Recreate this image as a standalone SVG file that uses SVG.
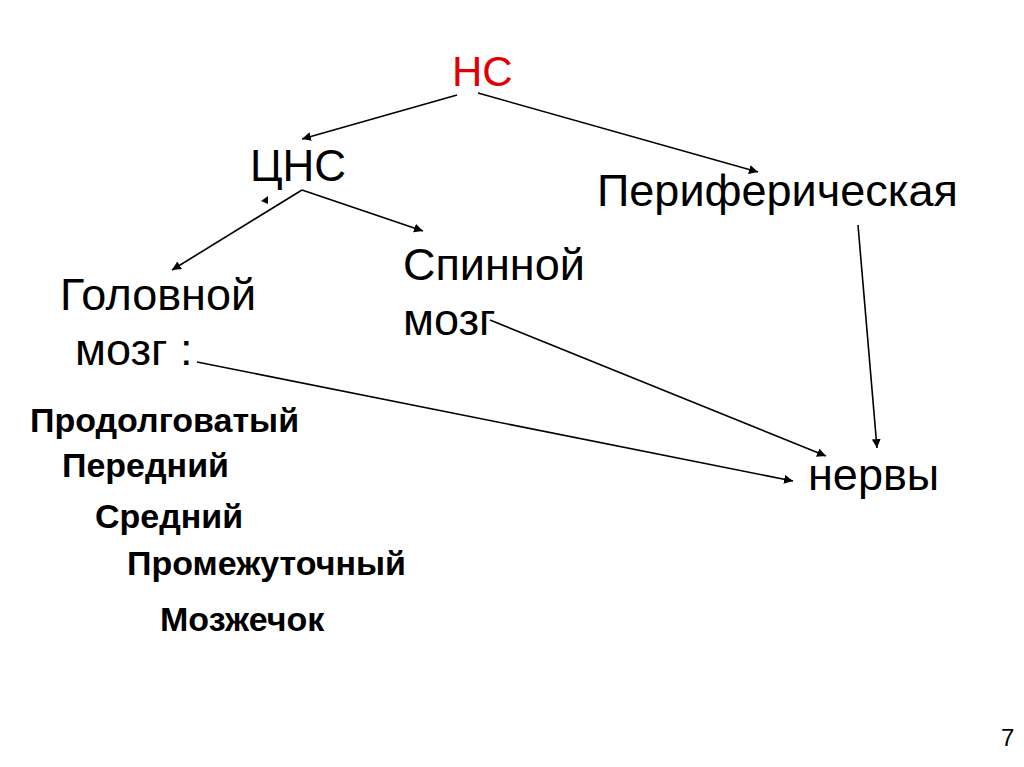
<svg xmlns="http://www.w3.org/2000/svg" width="1024" height="767" viewBox="0 0 1024 767">
<style>
.t{font-family:"Liberation Sans",Arial,sans-serif;fill:#000}
.big{font-size:45px}
.b{font-size:34px;font-weight:bold}
.c{stroke:#000;stroke-width:1.6;fill:none}
</style>
<defs>
<marker id="ah" viewBox="0 0 10 10" refX="10" refY="5" markerWidth="9" markerHeight="9" markerUnits="userSpaceOnUse" orient="auto">
<path d="M0,0 L10,5 L0,10 z" fill="#000"/>
</marker>
</defs>
<rect width="1024" height="767" fill="#fff"/>
<g id="connectors">
<line class="c" x1="457" y1="95" x2="302" y2="139" marker-end="url(#ah)"/>
<line class="c" x1="478" y1="93" x2="758" y2="172" marker-end="url(#ah)"/>
<line class="c" x1="302" y1="190" x2="172" y2="270" marker-end="url(#ah)"/>
<polygon points="261,201 268,196 268,204" fill="#000"/>
<line class="c" x1="302" y1="190" x2="423" y2="231" marker-end="url(#ah)"/>
<line class="c" x1="858" y1="225" x2="877" y2="448" marker-end="url(#ah)"/>
<line class="c" x1="490" y1="320" x2="826" y2="456" marker-end="url(#ah)"/>
<line class="c" x1="197" y1="362" x2="793" y2="481" marker-end="url(#ah)"/>
</g>
<g id="ns"><text class="t" x="452" y="86" style="font-size:42px;fill:#e00000">НС</text></g>
<g id="cns"><text class="t" x="250" y="181" style="font-size:44px">ЦНС</text></g>
<g id="periph"><text class="t big" x="597" y="206">Периферическая</text></g>
<g id="golovnoy"><text class="t big" x="60" y="310">Головной</text><text class="t big" x="75" y="365">мозг :</text></g>
<g id="spinnoy"><text class="t big" x="403" y="280">Спинной</text><text class="t big" x="403" y="335">мозг</text></g>
<g id="nervy"><text class="t big" x="808" y="490">нервы</text></g>
<g id="parts">
<text class="t b" x="30" y="432">Продолговатый</text>
<text class="t b" x="62" y="477">Передний</text>
<text class="t b" x="95" y="528">Средний</text>
<text class="t b" x="127" y="575">Промежуточный</text>
<text class="t b" x="160" y="631">Мозжечок</text>
</g>
<text class="t" x="1001" y="746" style="font-size:24px">7</text>
</svg>
